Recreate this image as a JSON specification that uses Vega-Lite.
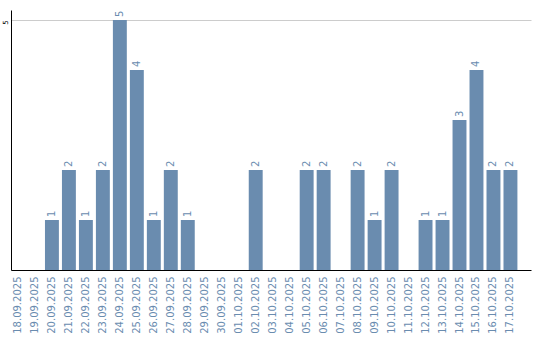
{
  "$schema": "https://vega.github.io/schema/vega-lite/v6.json",
  "width": 520,
  "height": 260,
  "autosize": {"type": "none"},
  "padding": {"left": 11, "top": 10, "right": 9, "bottom": 70},
  "background": "white",
  "config": {"view": {"stroke": null}},
  "data": {
    "values": [
      {"date": "18.09.2025", "count": 0},
      {"date": "19.09.2025", "count": 0},
      {"date": "20.09.2025", "count": 1},
      {"date": "21.09.2025", "count": 2},
      {"date": "22.09.2025", "count": 1},
      {"date": "23.09.2025", "count": 2},
      {"date": "24.09.2025", "count": 5},
      {"date": "25.09.2025", "count": 4},
      {"date": "26.09.2025", "count": 1},
      {"date": "27.09.2025", "count": 2},
      {"date": "28.09.2025", "count": 1},
      {"date": "29.09.2025", "count": 0},
      {"date": "30.09.2025", "count": 0},
      {"date": "01.10.2025", "count": 0},
      {"date": "02.10.2025", "count": 2},
      {"date": "03.10.2025", "count": 0},
      {"date": "04.10.2025", "count": 0},
      {"date": "05.10.2025", "count": 2},
      {"date": "06.10.2025", "count": 2},
      {"date": "07.10.2025", "count": 0},
      {"date": "08.10.2025", "count": 2},
      {"date": "09.10.2025", "count": 1},
      {"date": "10.10.2025", "count": 2},
      {"date": "11.10.2025", "count": 0},
      {"date": "12.10.2025", "count": 1},
      {"date": "13.10.2025", "count": 1},
      {"date": "14.10.2025", "count": 3},
      {"date": "15.10.2025", "count": 4},
      {"date": "16.10.2025", "count": 2},
      {"date": "17.10.2025", "count": 2}
    ]
  },
  "encoding": {
    "x": {
      "field": "date",
      "type": "ordinal",
      "sort": null,
      "scale": {"paddingInner": 0.18, "paddingOuter": 0.4, "align": 0},
      "axis": {
        "title": null,
        "labelAngle": -90,
        "ticks": false,
        "labelPadding": 6,
        "labelColor": "#6a8caf",
        "labelFont": "DejaVu Sans",
        "labelFontSize": 10,
        "domainColor": "black",
        "domainWidth": 1,
        "grid": false
      }
    },
    "y": {
      "field": "count",
      "type": "quantitative",
      "scale": {"domain": [0, 5.2], "nice": false},
      "axis": {
        "title": null,
        "values": [5],
        "ticks": false,
        "labelAngle": -90,
        "labelAlign": "center",
        "labelBaseline": "alphabetic",
        "labelPadding": 4,
        "labelOffset": 2,
        "labelFont": "DejaVu Sans",
        "labelFontSize": 7,
        "labelColor": "black",
        "domainColor": "black",
        "grid": true,
        "gridColor": "#cccccc",
        "gridWidth": 1
      }
    }
  },
  "layer": [
    {"mark": {"type": "bar", "color": "#6a8caf"}},
    {
      "transform": [{"filter": "datum.count > 0"}],
      "mark": {
        "type": "text",
        "angle": -90,
        "align": "left",
        "baseline": "middle",
        "dx": 3,
        "color": "#6a8caf",
        "font": "DejaVu Sans",
        "fontSize": 10
      },
      "encoding": {"text": {"field": "count", "type": "quantitative"}}
    }
  ]
}
